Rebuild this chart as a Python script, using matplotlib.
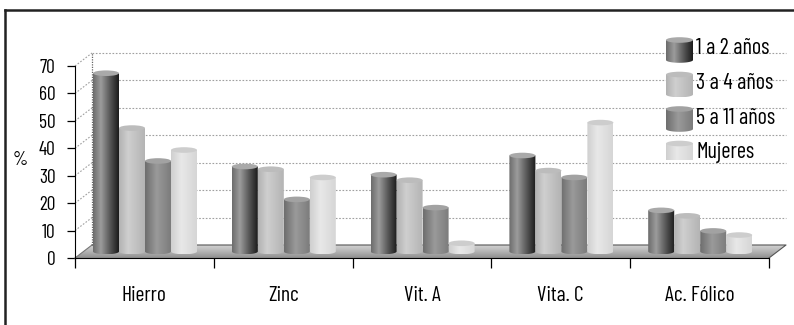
import numpy as np
import matplotlib.pyplot as plt
from matplotlib.colors import LinearSegmentedColormap
from matplotlib.patches import Ellipse, Polygon
from matplotlib.lines import Line2D

plt.rcParams['font.family'] = ['Barlow Condensed', 'DejaVu Sans']
plt.rcParams['font.weight'] = 400

# datos
categorias = ['Hierro', 'Zinc', 'Vit. A', 'Vita. C', 'Ac. Fólico']
series = ['1 a 2 años', '3 a 4 años', '5 a 11 años', 'Mujeres']
v_1a2 = [65, 31, 28, 35, 15]
v_3a4 = [45, 30, 26, 29.5, 13]
v_5a11 = [33, 19, 16, 27, 7.5]
v_mujeres = [37, 27, 3, 47, 6]
valores = [v_1a2, v_3a4, v_5a11, v_mujeres]
yticks = [0, 10, 20, 30, 40, 50, 60, 70]

# sombreado de cada cilindro (izq -> der) y color de la tapa
gradientes = [
    [(0, '#6c6c6c'), (0.3, '#9c9c9c'), (0.7, '#505050'), (1, '#1c1c1c')],
    [(0, '#b2b2b2'), (0.35, '#cfcfcf'), (1, '#b4b4b4')],
    [(0, '#6e6e6e'), (0.45, '#9a9a9a'), (1, '#7c7c7c')],
    [(0, '#cfcfcf'), (0.4, '#e8e8e8'), (1, '#d6d6d6')],
]
tapas = ['#a9a9a9', '#bcbcbc', '#a2a2a2', '#cdcdcd']

# perspectiva (en unidades de datos)
px_x = 138.8   # px por categoria
px_y = 2.7429  # px por unidad de %
dx = 17 / px_x
dy = 13 / px_y
ancho = 26 / px_x
ry = 2.8 / px_y
inicio = 18 / px_x
base = dy / 2

fig = plt.figure(figsize=(7.94, 3.25), dpi=100)
ax = fig.add_axes([70 / 794, 55 / 325, 720 / 794, 230 / 325])
ax.set_xlim(-5 / px_x, 715 / px_x)
ax.set_ylim(-12 / px_y, 218 / px_y)

# marco exterior
fig.add_artist(Line2D([5 / 794, 5 / 794], [0, 1 - 10 / 325], color='#222222', lw=1.8))
fig.add_artist(Line2D([5 / 794, 1], [1 - 10 / 325, 1 - 10 / 325], color='#222222', lw=1.8))

n = len(categorias)

# piso
piso = Polygon([(0, 0), (n, 0), (n + dx, dy), (dx, dy)], closed=True,
               facecolor='none', edgecolor='none')
ax.add_patch(piso)
grad_piso = np.linspace(0, 1, 50).reshape(-1, 1)
cmap_piso = LinearSegmentedColormap.from_list('piso', ['#8e8e8e', '#b4b4b4', '#d2d2d2'])
im = ax.imshow(grad_piso, extent=[0, n + dx, 0, dy], origin='lower', aspect='auto',
               cmap=cmap_piso, zorder=1)
im.set_clip_path(piso)
ax.plot([dx, n + dx, n], [dy, dy, 0], color='#555555', lw=0.8, zorder=2)
ax.plot([0, dx], [0, dy], color='#777777', lw=0.8, zorder=2)

# rejilla de fondo y pared lateral
for t in yticks[1:]:
    ax.plot([dx, n + dx], [t + dy, t + dy], color='#a0a0a0', lw=0.8, ls=(0, (1.5, 1.5)), zorder=1)
    ax.plot([0, dx], [t, t + dy], color='#a0a0a0', lw=0.8, ls=(0, (1.5, 1.5)), zorder=1)
ax.plot([dx, dx], [dy, yticks[-1] + dy], color='#666666', lw=0.9, ls=(0, (1, 1)), zorder=1)


def cilindro(ax, x0, w, y0, y1, r, grad, tapa, z):
    cx = x0 + w / 2
    ang = np.linspace(np.pi, 2 * np.pi, 40)
    pts = [(x0, y1), (x0, y0)]
    pts += list(zip(cx + w / 2 * np.cos(ang), y0 + r * np.sin(ang)))
    pts += [(x0 + w, y1)]
    cuerpo = Polygon(pts, closed=True, facecolor='none', edgecolor='none', zorder=z)
    ax.add_patch(cuerpo)
    cmap = LinearSegmentedColormap.from_list('c', grad)
    g = np.linspace(0, 1, 64).reshape(1, -1)
    im = ax.imshow(g, extent=[x0, x0 + w, y0 - r, y1], origin='lower', aspect='auto',
                   cmap=cmap, zorder=z)
    im.set_clip_path(cuerpo)
    ax.add_patch(Ellipse((cx, y1), w, 2 * r, facecolor=tapa, edgecolor='none', zorder=z + 0.1))


z = 3
for c in range(n):
    for s in range(len(series)):
        x0 = c + inicio + s * ancho
        cilindro(ax, x0, ancho, base, base + valores[s][c], ry, gradientes[s], tapas[s], z)
        z += 1

ax.set_xlim(-5 / px_x, 715 / px_x)
ax.set_ylim(-12 / px_y, 218 / px_y)

# ejes
for sp in ['top', 'right']:
    ax.spines[sp].set_visible(False)
ax.spines['left'].set_bounds(0, 70)
ax.spines['left'].set_position(('data', 0))
ax.spines['bottom'].set_bounds(0, n)
ax.spines['bottom'].set_position(('data', 0))
ax.spines['left'].set_zorder(200)
ax.spines['bottom'].set_zorder(200)
ax.set_yticks(yticks)
ax.tick_params(axis='y', length=6, width=0.9, pad=8, labelsize=14)
ax.set_xticks(range(n + 1))
ax.set_xticklabels([])
ax.tick_params(axis='x', which='major', length=7, width=0.9)
ax.set_xticks([c + 0.5 for c in range(n)], minor=True)
ax.set_xticklabels(categorias, minor=True, fontsize=15.5)
ax.tick_params(axis='x', which='minor', length=0, pad=20)
ax.set_ylabel('%', rotation=0, fontsize=14)
ax.yaxis.set_label_coords(-0.069, 0.44)

# leyenda con cilindros
lg = fig.add_axes([660 / 794, 1 - 160 / 325, 134 / 794, 145 / 325])
lg.set_xlim(0, 134)
lg.set_ylim(0, 145)
lg.axis('off')
lg.patch.set_alpha(0)
for s, nombre in enumerate(series):
    y_top = 145 - (25 + s * 34.5)
    y_bot = y_top - 20
    cilindro(lg, 6, 27, y_bot, y_top, 2.8, gradientes[s], tapas[s], 3)
    lg.text(36, y_top - 9, nombre, fontsize=16, va='center', ha='left')
lg.set_xlim(0, 134)
lg.set_ylim(0, 145)

fig.savefig('out.png', dpi=100)
